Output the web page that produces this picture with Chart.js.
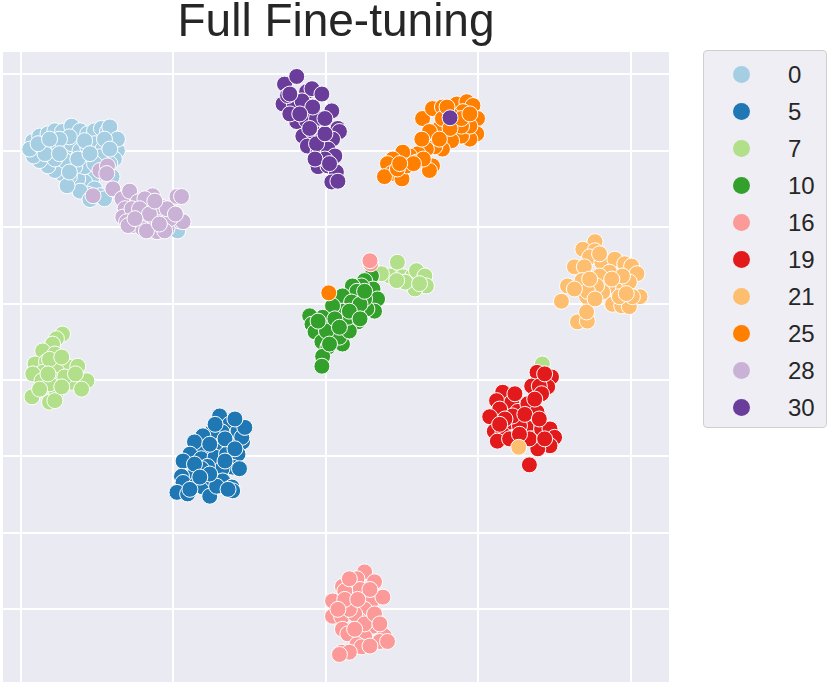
<!DOCTYPE html>
<html>
<head>
<meta charset="utf-8">
<script src="https://cdn.jsdelivr.net/npm/chart.js@4.4.1/dist/chart.umd.min.js"></script>
<style>
  html, body { margin: 0; padding: 0; background: #ffffff; overflow: hidden; }
  #wrap { position: relative; width: 830px; height: 685px; }
  #legend { position: absolute; left: 703px; top: 50px; width: 124px; height: 378px; box-sizing: border-box;
            border: 1px solid #cfcfcf; border-radius: 4px; background: #eeeef4; font-family: "Liberation Sans", Arial, sans-serif; }
  .item { position: absolute; left: 0; width: 100%; height: 0; }
  .dot { position: absolute; left: 28.5px; top: -8.5px; width: 17px; height: 17px; border-radius: 50%; }
  .lab { position: absolute; left: 84px; top: -12px; font-size: 24px; line-height: 24px; color: #262626; }
</style>
</head>
<body>
<div id="wrap">
  <canvas id="c" width="830" height="685"></canvas>
  <div id="legend"></div>
</div>
<script>
// ---- categories / labels ----
const classLabels = ['0', '5', '7', '10', '16', '19', '21', '25', '28', '30'];
const titleText = 'Full Fine-tuning';
// gridline positions (no tick labels are shown)
const xTicks = [-40, -20, 0, 20, 40];
const yTicks = [-30, -20, -10, 0, 10, 20, 30, 40];

// ---- point series (t-SNE coordinates) ----
const pts0 = [[-38.4,31.2],[-37.5,31.9],[-36.4,32.2],[-35.5,32.6],[-34.5,32.5],[-33.3,33.2],[-32.2,32.6],[-31.2,32.2],[-30.3,32.6],[-29.4,32.9],[-28.6,32.5],[-27.9,31.8],[-27.5,30.9],[-27.3,30.0],[-27.7,28.9],[-28.3,28.3],[-29.1,27.6],[-29.9,27.0],[-30.7,26.3],[-31.6,25.9],[-32.5,26.3],[-33.6,26.6],[-34.6,27.0],[-35.5,27.4],[-36.4,28.0],[-37.5,28.7],[-38.3,29.3],[-38.8,30.2],[-37.2,30.5],[-36.2,30.2],[-35.1,30.9],[-34.2,30.2],[-33.3,30.9],[-32.2,30.0],[-31.2,30.5],[-30.3,30.9],[-29.2,30.2],[-29.6,29.2],[-30.7,28.5],[-31.6,27.9],[-32.9,27.9],[-34.2,28.7],[-35.5,28.9],[-36.8,29.6],[-33.6,31.8],[-31.6,31.3],[-34.9,31.5],[-30.3,25.0],[-29.6,24.1],[-31.2,24.3],[-29.0,23.7],[-28.0,26.6],[-19.4,19.5],[-32.2,24.7],[-28.3,33.1],[-37.7,30.9],[-27.3,31.5],[-33.9,25.4],[-30.9,23.6],
  [-34.9,29.6],[-32.5,28.9],[-30.3,28.3],[-29.0,31.5],[-36.2,31.5],[-30.9,29.6],[-33.6,27.2],[-28.3,30.2]];
const pts5 = [[-13.9,-4.7],[-12.6,-5.8],[-11.5,-6.7],[-13.6,-6.8],[-14.9,-6.8],[-16.1,-7.3],[-10.9,-8.1],[-12.6,-8.6],[-14.3,-9.0],[-16.1,-9.0],[-17.2,-8.1],[-17.8,-9.7],[-18.7,-10.6],[-16.3,-10.3],[-14.5,-10.1],[-13.0,-9.7],[-11.5,-9.7],[-12.2,-11.4],[-13.6,-11.6],[-15.5,-11.3],[-16.3,-11.6],[-17.4,-12.6],[-18.9,-12.6],[-18.7,-13.4],[-16.9,-13.6],[-16.1,-14.0],[-14.8,-13.0],[-13.5,-13.2],[-12.3,-14.0],[-12.2,-14.5],[-15.2,-15.2],[-19.5,-14.7],[-18.1,-14.9],[-14.3,-13.9],[-11.0,-7.5],
  [-15.2,-8.4],[-13.2,-7.7],[-11.9,-9.0],[-15.2,-12.3],[-17.2,-11.0],[-13.2,-10.6],[-17.8,-14.3],[-11.3,-11.6],[-12.8,-14.3],[-16.5,-12.7],[-10.6,-6.2],[-11.9,-5.1],[-14.5,-5.8]];
const pts7 = [[-34.5,6.0],[-35.3,5.4],[-35.8,4.7],[-37.1,3.8],[-35.5,3.4],[-38.1,2.1],[-36.6,2.4],[-35.1,2.1],[-33.8,1.7],[-32.5,1.8],[-37.1,1.0],[-35.3,1.2],[-38.4,0.8],[-37.2,-0.1],[-35.8,0.1],[-33.3,-0.3],[-31.3,-0.1],[-32.0,-1.2],[-35.3,-1.6],[-38.5,-2.2],[-36.2,-2.9],[-35.5,-2.7],[-34.2,0.4],[-36.2,-0.5],
  [-36.2,2.7],[-34.6,3.0],[-36.4,0.8],[-34.6,-0.9],[-32.8,0.8],[-37.5,-1.2],
  [9.4,15.4],[8.4,13.6],[7.3,13.9],[10.1,13.5],[11.4,13.6],[11.9,14.3],[13.0,13.6],[13.2,12.3],[11.7,11.9],[10.4,12.8],[9.3,13.0],[12.3,12.6],
  [28.4,2.1]];
const pts10 = [[6.0,13.6],[5.1,13.0],[6.2,11.9],[4.7,12.3],[3.5,12.3],[4.1,11.6],[2.2,11.0],[6.8,10.6],[6.4,9.0],[5.4,9.3],[5.1,10.6],[3.4,10.2],[2.2,9.0],[4.1,8.6],[0.9,9.7],[-0.4,8.2],[-2.1,8.4],[-1.8,7.3],[-1.4,6.3],[0.9,7.1],[2.5,7.6],[4.2,7.6],[0.9,5.6],[-0.5,5.0],[0.3,4.3],[2.2,4.7],[-0.4,3.1],[-0.5,1.8],[1.8,5.6],[0.1,6.4],[3.1,6.4],[4.5,9.9],[2.9,8.2],
  [1.2,8.0],[3.1,9.0],[1.8,6.9],[5.1,11.6],[-1.0,7.7],[0.5,4.7],[4.5,8.0]];
const pts16 = [[5.1,-25.1],[4.1,-26.0],[6.4,-26.4],[2.2,-27.0],[4.5,-27.4],[2.5,-27.6],[0.9,-28.9],[6.0,-28.9],[7.5,-28.4],[3.5,-29.1],[5.1,-30.0],[0.9,-30.9],[2.1,-31.0],[4.5,-31.5],[6.2,-32.2],[2.2,-32.6],[2.9,-33.2],[5.1,-33.6],[7.7,-33.5],[7.1,-34.2],[8.1,-34.2],[4.1,-34.6],[4.7,-34.9],[2.1,-35.6],[3.1,-35.6],[1.8,-35.9],[5.8,-34.8],[3.8,-30.6],
  [3.1,-30.0],[2.5,-28.7],[5.1,-31.9],[3.8,-32.6],[6.4,-30.6],[5.8,-27.4],[3.1,-26.0],[1.6,-30.0],[7.1,-31.9],[4.2,-28.7],
  [5.9,15.2],[5.8,15.6]];
const pts19 = [[27.7,1.0],[29.6,0.4],[29.1,-0.9],[27.0,-0.8],[28.0,-0.8],[28.3,-1.8],[23.2,-1.6],[22.4,-2.7],[24.4,-2.9],[22.8,-3.8],[21.5,-4.8],[25.2,-4.1],[26.5,-3.1],[27.7,-4.2],[25.4,-5.4],[26.3,-6.2],[24.1,-5.5],[22.1,-6.7],[23.2,-7.1],[22.5,-8.0],[27.1,-7.7],[28.3,-6.4],[29.4,-6.4],[30.0,-7.5],[29.4,-8.6],[27.8,-9.0],[26.7,-7.7],[25.4,-6.0],[24.5,-4.7],[26.7,-11.1],
  [24.8,-1.8],[26.1,-4.5],[23.5,-5.1],[28.0,-5.1],[28.7,-7.7],[24.1,-7.7],[25.4,-7.1],[27.4,-2.5],[28.7,0.8],[22.8,-5.8]];
const pts21 = [[35.3,18.1],[33.7,17.1],[35.3,16.9],[34.6,16.1],[36.2,15.4],[32.6,14.8],[33.9,14.8],[37.9,15.8],[39.2,15.2],[40.1,14.9],[40.8,13.9],[37.2,14.1],[35.9,13.6],[33.6,13.0],[31.7,12.3],[38.5,12.3],[39.8,12.8],[37.0,12.2],[36.3,11.5],[34.2,10.9],[30.9,10.3],[37.6,9.9],[38.8,9.7],[39.8,9.6],[41.2,10.9],[40.2,10.9],[35.5,12.3],[34.3,11.6],[33.0,7.6],[34.3,7.7],[34.2,8.9],[38.9,13.6],
  [35.9,16.5],[37.5,13.2],[35.3,10.6],[38.5,10.9],[32.6,11.9],[34.6,13.2],[39.4,11.3],
  [25.3,-8.8]];
const pts25 = [[12.7,34.2],[14.0,35.5],[15.3,35.7],[17.2,36.1],[18.5,36.4],[19.3,35.9],[19.9,34.2],[19.8,32.2],[18.9,31.5],[17.8,31.9],[16.5,31.3],[15.3,30.2],[14.3,30.5],[13.2,30.2],[12.1,29.6],[11.0,29.3],[10.1,29.8],[8.8,28.9],[8.1,28.3],[8.6,27.0],[10.0,26.3],[10.6,28.0],[11.9,28.5],[14.0,28.0],[13.6,27.4],[14.9,32.9],[16.6,33.8],[18.0,35.1],[18.9,33.2],[13.6,32.5],[15.3,34.2],[16.5,34.6],[12.6,31.5],[17.8,33.2],[7.7,26.6],[9.4,27.6],
  [16.3,32.9],[17.8,34.2],[12.8,28.9],[11.5,28.3],[14.9,31.5],[9.7,28.3],[18.9,34.8],[15.9,35.7],
  [0.4,11.4]];
const pts28 = [[-29.6,27.4],[-28.6,28.0],[-28.7,27.0],[-30.5,24.1],[-27.9,25.0],[-26.7,23.7],[-25.7,24.7],[-26.3,22.4],[-26.6,21.3],[-25.3,20.2],[-24.1,21.5],[-23.5,22.8],[-22.7,24.1],[-22.1,22.4],[-23.1,20.7],[-21.5,21.1],[-20.8,19.8],[-19.5,24.0],[-18.9,24.0],[-19.1,20.8],[-18.7,20.7],[-22.1,19.4],[-24.0,19.8],[-24.6,23.3],[-25.4,22.4],[-21.5,22.6],[-20.4,21.1],[-26.1,20.7],[-20.8,22.4],[-21.1,19.5],[-23.5,19.5],[-25.9,20.2],[-23.7,23.7],
  [-24.4,22.4],[-23.1,21.7],[-21.8,20.4],[-25.0,21.1],[-19.7,21.7],[-22.4,23.4]];
const pts30 = [[-5.4,38.7],[-3.8,39.7],[-5.6,36.1],[-4.1,35.9],[-2.5,37.7],[-1.8,38.1],[-0.5,37.4],[0.8,35.2],[-3.8,33.8],[-2.5,33.9],[-1.2,34.2],[-3.0,31.9],[-1.7,32.5],[-0.5,31.5],[1.6,32.9],[1.8,32.5],[0.9,31.5],[-2.4,30.6],[-1.0,29.8],[0.3,30.2],[1.2,29.3],[-1.0,27.9],[0.3,28.0],[1.4,27.2],[0.8,25.9],[1.6,26.0],[-5.0,37.2],[-3.1,36.5],[-1.7,35.7],[-4.7,34.8],[-1.2,30.9],[-0.1,28.9],
  [-3.4,34.8],[-2.1,32.9],[-0.1,32.2],[-1.4,28.9],[0.5,28.3],[-4.7,37.4],[-0.1,34.2],
  [16.3,34.3]];

const seriesPoints = [pts0, pts5, pts7, pts10, pts16, pts19, pts21, pts25, pts28, pts30];
// Paired palette
const palette = ['#a6cee3', '#1f78b4', '#b2df8a', '#33a02c', '#fb9a99', '#e31a1c', '#fdbf6f', '#ff7f00', '#cab2d6', '#6a3d9a'];

const datasets = classLabels.map((lab, i) => ({
  label: lab,
  data: seriesPoints[i].map(([x, y]) => ({ x, y })),
  backgroundColor: palette[i],
  borderColor: '#ffffff',
  borderWidth: 1,
  pointRadius: 8,
  pointHoverRadius: 8,
  order: classLabels.length - i
}));

const bgPlugin = {
  id: 'bg',
  beforeDraw(chart) {
    const { ctx, chartArea: a } = chart;
    ctx.save();
    ctx.fillStyle = '#ffffff';
    ctx.fillRect(0, 0, chart.width, chart.height);
    ctx.fillStyle = '#eaeaf2';
    ctx.fillRect(a.left, a.top, a.right - a.left, a.bottom - a.top);
    ctx.restore();
  }
};

new Chart(document.getElementById('c'), {
  type: 'scatter',
  data: { datasets },
  plugins: [bgPlugin],
  options: {
    responsive: false,
    animation: false,
    devicePixelRatio: 1,
    layout: { autoPadding: false, padding: { left: 3, right: 161, top: 0, bottom: 3 } },
    plugins: {
      legend: { display: false },
      tooltip: { enabled: false },
      title: {
        display: true,
        text: titleText,
        fullSize: false,
        color: '#262626',
        font: { family: 'Liberation Sans', size: 46, weight: 'normal', lineHeight: 1.0 },
        padding: { top: 0, bottom: 6 }
      }
    },
    scales: {
      x: {
        type: 'linear', min: -42.3, max: 45,
        afterBuildTicks: s => { s.ticks = xTicks.map(v => ({ value: v })); },
        ticks: { display: false },
        grid: { color: '#ffffff', lineWidth: 2, drawTicks: false },
        border: { display: false }
      },
      y: {
        type: 'linear', min: -39.5, max: 42.9,
        afterBuildTicks: s => { s.ticks = yTicks.map(v => ({ value: v })); },
        ticks: { display: false },
        grid: { color: '#ffffff', lineWidth: 2, drawTicks: false },
        border: { display: false }
      }
    }
  }
});

// legend (real text)
const legend = document.getElementById('legend');
classLabels.forEach((lab, i) => {
  const it = document.createElement('div');
  it.className = 'item';
  it.style.top = (23.5 + i * 37) + 'px';
  const dot = document.createElement('div');
  dot.className = 'dot';
  dot.style.background = palette[i];
  const t = document.createElement('div');
  t.className = 'lab';
  t.textContent = lab;
  it.appendChild(dot); it.appendChild(t);
  legend.appendChild(it);
});
</script>
</body>
</html>
